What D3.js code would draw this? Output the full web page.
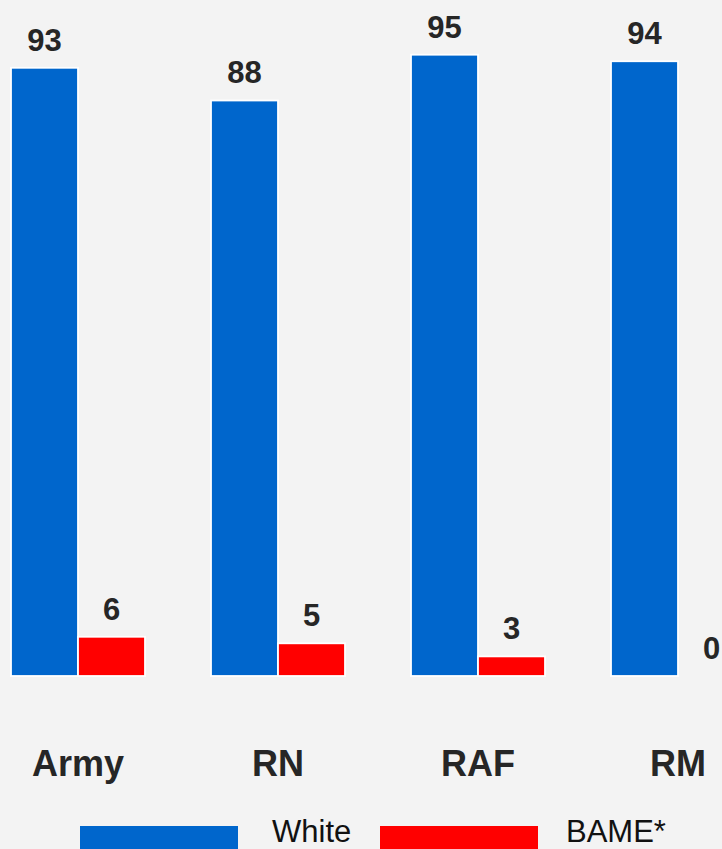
<!DOCTYPE html>
<html>
<head>
<meta charset="utf-8">
<script src="https://cdn.jsdelivr.net/npm/d3@7/dist/d3.min.js"></script>
<style>
  html, body { margin: 0; padding: 0; background: #f3f3f3; }
  svg { display: block; font-family: "Liberation Sans", Arial, sans-serif; }
</style>
</head>
<body>
<svg id="chart" width="722" height="849"></svg>
<script>
// Service branches and percentage share by ethnicity
const categories = ["Army", "RN", "RAF", "RM"];
const seriesNames = ["White", "BAME*"];
const whiteValues = [93, 88, 95, 94];
const bameValues = [6, 5, 3, 0];
const seriesColors = ["#0066cc", "#ff0000"];

const svg = d3.select("#chart");
const W = 722, H = 849;

svg.append("rect").attr("width", W).attr("height", H).attr("fill", "#f3f3f3");

const baseline = 676;
const y = d3.scaleLinear().domain([0, 100]).range([baseline, 22]);

const x0 = d3.scaleBand()
  .domain(categories)
  .range([11, 745])
  .paddingInner(0.33)
  .paddingOuter(0);

const x1 = d3.scaleBand()
  .domain(seriesNames)
  .range([0, x0.bandwidth()]);

const color = d3.scaleOrdinal().domain(seriesNames).range(seriesColors);

const rows = categories.map((c, i) => ({
  category: c,
  values: [
    { series: seriesNames[0], value: whiteValues[i] },
    { series: seriesNames[1], value: bameValues[i] }
  ]
}));

const groups = svg.append("g").selectAll("g")
  .data(rows)
  .join("g")
  .attr("transform", d => `translate(${x0(d.category)},0)`);

groups.selectAll("rect")
  .data(d => d.values)
  .join("rect")
  .attr("x", d => x1(d.series))
  .attr("y", d => y(d.value))
  .attr("width", x1.bandwidth())
  .attr("height", d => baseline - y(d.value))
  .attr("fill", d => color(d.series))
  .attr("stroke", "#ffffff")
  .attr("stroke-width", 1.8);

groups.selectAll("text.val")
  .data(d => d.values)
  .join("text")
  .attr("class", "val")
  .attr("x", d => x1(d.series) + x1.bandwidth() / 2)
  .attr("y", d => y(d.value) - 17)
  .attr("text-anchor", "middle")
  .attr("font-size", 31)
  .attr("font-weight", "bold")
  .attr("fill", "#262626")
  .text(d => d.value);

// Category axis labels, centred under each group
const xAxis = d3.axisBottom(x0).tickSize(0).tickPadding(0);
const axisG = svg.append("g")
  .attr("transform", `translate(0,${baseline})`)
  .call(xAxis);
axisG.select(".domain").remove();
axisG.selectAll("text")
  .attr("y", 100)
  .attr("dy", 0)
  .attr("font-size", 36)
  .attr("font-weight", "bold")
  .attr("font-family", "'Liberation Sans', Arial, sans-serif")
  .attr("fill", "#262626");

// Legend
const legendItems = [
  { name: seriesNames[0], rx: 80, tx: 272 },
  { name: seriesNames[1], rx: 380, tx: 566 }
];
const legend = svg.append("g");
legend.selectAll("rect")
  .data(legendItems)
  .join("rect")
  .attr("x", d => d.rx)
  .attr("y", 826)
  .attr("width", 158)
  .attr("height", 30)
  .attr("fill", d => color(d.name));
legend.selectAll("text")
  .data(legendItems)
  .join("text")
  .attr("x", d => d.tx)
  .attr("y", 842)
  .attr("font-size", 31)
  .attr("fill", "#111111")
  .text(d => d.name);
</script>
</body>
</html>
